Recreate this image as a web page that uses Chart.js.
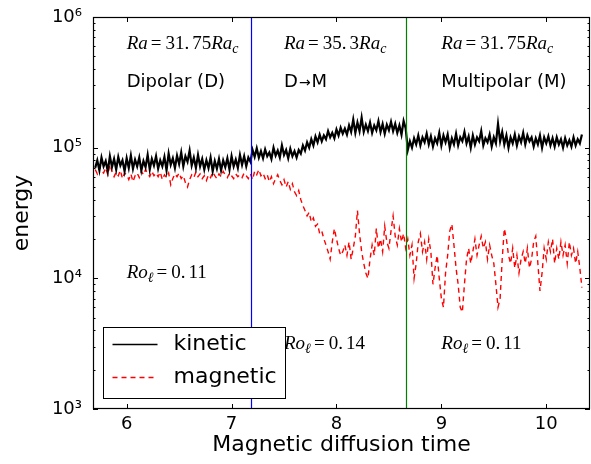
<!DOCTYPE html>
<html>
<head>
<meta charset="utf-8">
<script src="https://cdn.jsdelivr.net/npm/chart.js@4.4.0/dist/chart.umd.min.js"></script>
<style>
  html, body { margin: 0; padding: 0; background: #fff; }
  #wrap { width: 591px; height: 464px; }
</style>
</head>
<body>
<div id="wrap"><canvas id="energyChart" width="591" height="464"></canvas></div>
<script>
// magnetic diffusion times
const time = [
  5.70, 5.72, 5.74, 5.76, 5.78, 5.80, 5.82, 5.84, 5.86, 5.88,
  5.90, 5.92, 5.94, 5.96, 5.98, 6.00, 6.02, 6.04, 6.06, 6.08,
  6.10, 6.12, 6.14, 6.16, 6.18, 6.20, 6.22, 6.24, 6.26, 6.28,
  6.30, 6.32, 6.34, 6.36, 6.38, 6.40, 6.42, 6.44, 6.46, 6.48,
  6.50, 6.52, 6.54, 6.56, 6.58, 6.60, 6.62, 6.64, 6.66, 6.68,
  6.70, 6.72, 6.74, 6.76, 6.78, 6.80, 6.82, 6.84, 6.86, 6.88,
  6.90, 6.92, 6.94, 6.96, 6.98, 7.00, 7.02, 7.04, 7.06, 7.08,
  7.10, 7.12, 7.14, 7.16, 7.18, 7.20, 7.22, 7.24, 7.26, 7.28,
  7.30, 7.32, 7.34, 7.36, 7.38, 7.40, 7.42, 7.44, 7.46, 7.48,
  7.50, 7.52, 7.54, 7.56, 7.58, 7.60, 7.62, 7.64, 7.66, 7.68,
  7.70, 7.72, 7.74, 7.76, 7.78, 7.80, 7.82, 7.84, 7.86, 7.88,
  7.90, 7.92, 7.94, 7.96, 7.98, 8.00, 8.02, 8.04, 8.06, 8.08,
  8.10, 8.12, 8.14, 8.16, 8.18, 8.20, 8.22, 8.24, 8.26, 8.28,
  8.30, 8.32, 8.34, 8.36, 8.38, 8.40, 8.42, 8.44, 8.46, 8.48,
  8.50, 8.52, 8.54, 8.56, 8.58, 8.60, 8.62, 8.64, 8.66, 8.68,
  8.70, 8.72, 8.74, 8.76, 8.78, 8.80, 8.82, 8.84, 8.86, 8.88,
  8.90, 8.92, 8.94, 8.96, 8.98, 9.00, 9.02, 9.04, 9.06, 9.08,
  9.10, 9.12, 9.14, 9.16, 9.18, 9.20, 9.22, 9.24, 9.26, 9.28,
  9.30, 9.32, 9.34, 9.36, 9.38, 9.40, 9.42, 9.44, 9.46, 9.48,
  9.50, 9.52, 9.54, 9.56, 9.58, 9.60, 9.62, 9.64, 9.66, 9.68,
  9.70, 9.72, 9.74, 9.76, 9.78, 9.80, 9.82, 9.84, 9.86, 9.88,
  9.90, 9.92, 9.94, 9.96, 9.98, 10.00, 10.02, 10.04, 10.06, 10.08,
  10.10, 10.12, 10.14, 10.16, 10.18, 10.20, 10.22, 10.24, 10.26, 10.28,
  10.30, 10.32, 10.34
];

const kinetic = [
  70e3, 80e3, 67e3, 84e3, 72e3, 79e3, 66e3, 86e3, 71e3, 82e3,
  68e3, 85e3, 73e3, 80e3, 66e3, 83e3, 70e3, 87e3, 69e3, 81e3,
  72e3, 84e3, 67e3, 79e3, 71e3, 88e3, 68e3, 82e3, 73e3, 86e3,
  69e3, 80e3, 72e3, 85e3, 67e3, 90e3, 74e3, 83e3, 70e3, 87e3,
  75e3, 92e3, 72e3, 86e3, 78e3, 95e3, 73e3, 84e3, 70e3, 88e3,
  72e3, 82e3, 68e3, 80e3, 70e3, 84e3, 66e3, 79e3, 69e3, 82e3,
  67e3, 80e3, 71e3, 83e3, 68e3, 86e3, 72e3, 81e3, 70e3, 88e3,
  74e3, 86e3, 72e3, 84e3, 78e3, 96e3, 85e3, 99e3, 84e3, 94e3,
  83e3, 97e3, 86e3, 92e3, 82e3, 100e3, 87e3, 95e3, 84e3, 104e3,
  88e3, 96e3, 83e3, 98e3, 86e3, 94e3, 84e3, 96e3, 90e3, 104e3,
  95e3, 110e3, 100e3, 116e3, 104e3, 122e3, 110e3, 126e3, 112e3, 124e3,
  116e3, 134e3, 120e3, 130e3, 118e3, 138e3, 124e3, 142e3, 128e3, 140e3,
  126e3, 148e3, 132e3, 164e3, 130e3, 156e3, 134e3, 170e3, 132e3, 150e3,
  134e3, 156e3, 130e3, 148e3, 136e3, 160e3, 132e3, 152e3, 128e3, 150e3,
  136e3, 158e3, 134e3, 152e3, 130e3, 148e3, 126e3, 160e3, 140e3, 96e3,
  112e3, 100e3, 118e3, 106e3, 124e3, 104e3, 120e3, 110e3, 128e3, 106e3,
  122e3, 102e3, 118e3, 108e3, 130e3, 104e3, 124e3, 110e3, 126e3, 100e3,
  118e3, 106e3, 128e3, 104e3, 120e3, 112e3, 132e3, 108e3, 122e3, 100e3,
  124e3, 106e3, 120e3, 112e3, 134e3, 104e3, 118e3, 110e3, 126e3, 102e3,
  120e3, 108e3, 152e3, 112e3, 132e3, 106e3, 124e3, 100e3, 120e3, 108e3,
  126e3, 104e3, 122e3, 110e3, 130e3, 106e3, 124e3, 112e3, 120e3, 102e3,
  118e3, 106e3, 124e3, 100e3, 120e3, 108e3, 122e3, 104e3, 118e3, 102e3,
  120e3, 106e3, 116e3, 100e3, 118e3, 104e3, 114e3, 102e3, 120e3, 104e3,
  116e3, 108e3, 126e3
];

const magnetic = [
  68e3, 63e3, 71e3, 66e3, 64e3, 70e3, 62e3, 74e3, 66e3, 60e3,
  65e3, 61e3, 67e3, 58e3, 64e3, 62e3, 57e3, 63e3, 55e3, 61e3,
  64e3, 59e3, 66e3, 62e3, 68e3, 63e3, 60e3, 66e3, 61e3, 64e3,
  60e3, 65e3, 57e3, 62e3, 59e3, 64e3, 52e3, 58e3, 63e3, 60e3,
  64e3, 58e3, 61e3, 54e3, 50e3, 57e3, 62e3, 59e3, 65e3, 60e3,
  63e3, 58e3, 61e3, 56e3, 62e3, 59e3, 65e3, 61e3, 58e3, 63e3,
  60e3, 66e3, 62e3, 59e3, 64e3, 61e3, 58e3, 63e3, 60e3, 62e3,
  59e3, 64e3, 61e3, 58e3, 63e3, 57e3, 66e3, 62e3, 68e3, 61e3,
  64e3, 58e3, 62e3, 55e3, 60e3, 53e3, 58e3, 62e3, 56e3, 52e3,
  57e3, 50e3, 55e3, 48e3, 53e3, 46e3, 43e3, 47e3, 40e3, 36e3,
  33e3, 30e3, 32e3, 27e3, 29e3, 25e3, 26e3, 22e3, 23e3, 20e3,
  18e3, 16e3, 14e3, 19e3, 24e3, 20e3, 17e3, 15e3, 16e3, 18e3,
  15e3, 19e3, 14e3, 17e3, 21e3, 33e3, 22e3, 16e3, 13e3, 11e3,
  10e3, 14e3, 18e3, 15e3, 24e3, 17e3, 20e3, 16e3, 25e3, 19e3,
  17e3, 23e3, 30e3, 21e3, 18e3, 24e3, 19e3, 22e3, 17e3, 20e3,
  15e3, 18e3, 10e3, 13e3, 19e3, 22e3, 16e3, 19e3, 14e3, 20e3,
  16e3, 9e3, 12e3, 15e3, 10e3, 7e3, 6e3, 11e3, 15e3, 23e3,
  26e3, 18e3, 12e3, 9e3, 6e3, 5.5e3, 9e3, 14e3, 17e3, 13e3,
  16e3, 20e3, 15e3, 18e3, 21e3, 17e3, 19e3, 14e3, 18e3, 15e3,
  13e3, 9e3, 6e3, 7e3, 14e3, 24e3, 20e3, 15e3, 13e3, 17e3,
  12e3, 15e3, 11e3, 14e3, 16e3, 13e3, 17e3, 12e3, 14e3, 19e3,
  21e3, 13e3, 8e3, 11e3, 17e3, 14e3, 19e3, 16e3, 20e3, 13e3,
  17e3, 14e3, 19e3, 15e3, 18e3, 13e3, 19e3, 15e3, 17e3, 13e3,
  16e3, 12e3, 8.5e3
];

const xTicks = [6, 7, 8, 9, 10];
const yTicks = [1e3, 1e4, 1e5, 1e6];
const transitions = [7.187, 8.664];
const seriesNames = ['kinetic', 'magnetic'];

const sup = { 3: '\u00b3', 4: '\u2074', 5: '\u2075', 6: '\u2076' };
const SANS = '"DejaVu Sans", sans-serif';
const serifIt = 'italic 19px "Liberation Serif", serif';
const serif = '19px "Liberation Serif", serif';
const serifSub = 'italic 14px "Liberation Serif", serif';
const sans18 = '18px ' + SANS;

function raRuns(a, b) {
  return [
    { text: 'Ra', font: serifIt },
    { text: '=', font: serif, before: 3, after: 4 },
    { text: a, font: serif },
    { text: b, font: serif, before: 3 },
    { text: 'Ra', font: serifIt },
    { text: 'c', font: serifSub, dy: 4 }
  ];
}
function roRuns(a, b) {
  return [
    { text: 'Ro', font: serifIt },
    { text: '\u2113', font: serifSub, dy: 4 },
    { text: '=', font: serif, before: 3, after: 4 },
    { text: a, font: serif },
    { text: b, font: serif, before: 3 }
  ];
}

// text placed in data coordinates (left edge, baseline)
const notes = [
  { x: 6.0, y: 5.7e5, runs: raRuns('31.', '75') },
  { x: 7.5, y: 5.7e5, runs: raRuns('35.', '3') },
  { x: 9.0, y: 5.7e5, runs: raRuns('31.', '75') },
  { x: 6.0, y: 2.9e5, runs: [{ text: 'Dipolar (D)', font: sans18 }] },
  { x: 7.5, y: 2.9e5, runs: [
    { text: 'D', font: sans18 },
    { text: '\u2192', font: '14px ' + SANS, before: 1, after: 1 },
    { text: 'M', font: sans18 } ] },
  { x: 9.0, y: 2.9e5, runs: [{ text: 'Multipolar (M)', font: sans18 }] },
  { x: 6.0, y: 1.0e4, runs: roRuns('0.', '11') },
  { x: 7.5, y: 2.9e3, runs: roRuns('0.', '14') },
  { x: 9.0, y: 2.9e3, runs: roRuns('0.', '11') }
];

function drawRuns(ctx, x, y, runs) {
  let cx = x;
  runs.forEach(function(r) {
    ctx.font = r.font;
    cx += r.before || 0;
    ctx.fillText(r.text, cx, y + (r.dy || 0));
    cx += ctx.measureText(r.text).width + (r.after || 0);
  });
}

const decorations = {
  id: 'decorations',
  afterDatasetsDraw(chart) {
    const ctx = chart.ctx;
    const a = chart.chartArea;
    const x = chart.scales.x, y = chart.scales.y;
    ctx.save();

    // regime boundaries
    const lineColors = ['#0000ff', '#008000'];
    transitions.forEach(function(t, i) {
      const px = Math.round(x.getPixelForValue(t)) + 0.5;
      ctx.strokeStyle = lineColors[i];
      ctx.lineWidth = 1.2;
      ctx.beginPath();
      ctx.moveTo(px, a.top);
      ctx.lineTo(px, a.bottom);
      ctx.stroke();
    });

    // frame + inward ticks
    ctx.strokeStyle = '#000';
    ctx.lineWidth = 1.2;
    ctx.strokeRect(a.left + 0.5, a.top + 0.5, a.right - a.left - 1, a.bottom - a.top - 1);
    ctx.lineWidth = 1;
    ctx.beginPath();
    xTicks.forEach(function(v) {
      const px = Math.round(x.getPixelForValue(v)) + 0.5;
      ctx.moveTo(px, a.bottom); ctx.lineTo(px, a.bottom - 5);
      ctx.moveTo(px, a.top); ctx.lineTo(px, a.top + 5);
    });
    yTicks.forEach(function(v) {
      const py = Math.round(y.getPixelForValue(v)) + 0.5;
      ctx.moveTo(a.left, py); ctx.lineTo(a.left + 5, py);
      ctx.moveTo(a.right, py); ctx.lineTo(a.right - 5, py);
    });
    for (let d = 1e3; d < 1e6; d *= 10) {
      for (let k = 2; k <= 9; k++) {
        const py = Math.round(y.getPixelForValue(k * d)) + 0.5;
        ctx.moveTo(a.left, py); ctx.lineTo(a.left + 2.5, py);
        ctx.moveTo(a.right, py); ctx.lineTo(a.right - 2.5, py);
      }
    }
    ctx.stroke();

    // annotations
    ctx.fillStyle = '#000';
    ctx.textBaseline = 'alphabetic';
    ctx.textAlign = 'left';
    notes.forEach(function(n) {
      drawRuns(ctx, x.getPixelForValue(n.x), y.getPixelForValue(n.y), n.runs);
    });

    // legend box (lower left)
    const bx = a.left + 10.5, by = a.bottom - 81.5, bw = 182, bh = 71;
    ctx.fillStyle = '#fff';
    ctx.fillRect(bx, by, bw, bh);
    ctx.strokeStyle = '#000';
    ctx.lineWidth = 1;
    ctx.strokeRect(bx, by, bw, bh);
    chart.data.datasets.forEach(function(ds, i) {
      const ly = by + 17 + i * 33;
      ctx.strokeStyle = ds.borderColor;
      ctx.lineWidth = 1.3;
      ctx.setLineDash(ds.borderDash || []);
      ctx.beginPath();
      ctx.moveTo(bx + 9, ly);
      ctx.lineTo(bx + 54, ly);
      ctx.stroke();
      ctx.setLineDash([]);
      ctx.fillStyle = '#000';
      ctx.font = '22px ' + SANS;
      ctx.textBaseline = 'middle';
      ctx.fillText(ds.label, bx + 70, ly);
    });
    ctx.restore();
  }
};

function points(vals) {
  return vals.map(function(v, i) { return { x: time[i], y: v }; });
}

new Chart(document.getElementById('energyChart'), {
  type: 'line',
  data: {
    datasets: [
      {
        label: seriesNames[0],
        data: points(kinetic),
        borderColor: '#000000',
        borderWidth: 2.2,
        pointRadius: 0,
        tension: 0
      },
      {
        label: seriesNames[1],
        data: points(magnetic),
        borderColor: '#ff0000',
        borderWidth: 1.4,
        borderDash: [5, 4],
        pointRadius: 0,
        tension: 0
      }
    ]
  },
  options: {
    responsive: false,
    animation: false,
    devicePixelRatio: 1,
    layout: { padding: { left: 0, right: 1, top: 17, bottom: 0 } },
    plugins: {
      legend: { display: false },
      tooltip: { enabled: false }
    },
    scales: {
      x: {
        type: 'linear',
        min: 5.679,
        max: 10.417,
        afterBuildTicks: function(s) { s.ticks = xTicks.map(function(v) { return { value: v }; }); },
        afterFit: function(s) { s.height = 55; },
        grid: { display: false },
        border: { display: false },
        ticks: { color: '#000', font: { family: SANS, size: 18 }, padding: -3, maxRotation: 0, autoSkip: false },
        title: { display: true, text: 'Magnetic diffusion time', color: '#000',
          font: { family: SANS, size: 22 }, padding: { top: 0, bottom: 6 } }
      },
      y: {
        type: 'logarithmic',
        min: 1e3,
        max: 1e6,
        afterBuildTicks: function(s) { s.ticks = yTicks.map(function(v) { return { value: v }; }); },
        afterFit: function(s) { s.width = 93; },
        grid: { display: false },
        border: { display: false },
        ticks: {
          color: '#000', font: { family: SANS, size: 18 }, padding: 3, autoSkip: false,
          callback: function(v) { return '10' + sup[Math.round(Math.log10(v))]; }
        },
        title: { display: true, text: 'energy', color: '#000',
          font: { family: SANS, size: 22 }, padding: { top: 9, bottom: 0 } }
      }
    }
  },
  plugins: [decorations]
});
</script>
</body>
</html>
